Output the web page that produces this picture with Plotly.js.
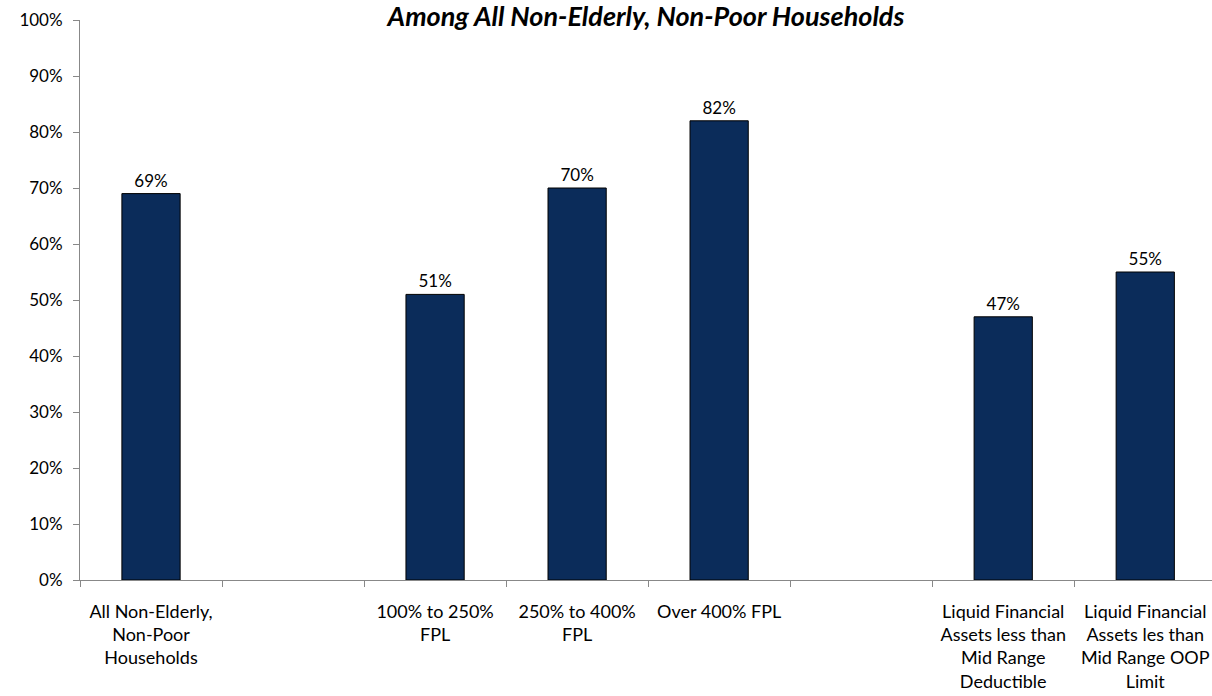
<!DOCTYPE html>
<html>
<head>
<meta charset="utf-8">
<script src="https://cdn.plot.ly/plotly-3.0.1.min.js"></script>
<style>html,body{margin:0;padding:0;background:#fff;}#chart{width:1212px;height:696px;}</style>
</head>
<body>
<div id="chart"></div>
<script>
var categories = [
  "All Non-Elderly,<br>Non-Poor<br>Households",
  " ",
  "100% to 250%<br>FPL",
  "250% to 400%<br>FPL",
  "Over 400% FPL",
  "  ",
  "Liquid Financial<br>Assets less than<br>Mid Range<br>Deductible",
  "Liquid Financial<br>Assets les than<br>Mid Range OOP<br>Limit"
];
var values = [69, null, 51, 70, 82, null, 47, 55];
var labels = values.map(function(v){ return v === null ? "" : v + "%"; });
var yTicks = [0,10,20,30,40,50,60,70,80,90,100];
var titleText = "Among All Non-Elderly, Non-Poor Households";

var font = "Lato, 'Open Sans', sans-serif";

Plotly.newPlot("chart", [{
  type: "bar",
  x: categories,
  y: values,
  text: labels,
  textposition: "outside",
  cliponaxis: false,
  textfont: {family: font, size: 17, color: "#000"},
  width: 0.41,
  marker: {color: "#0b2c5a", line: {color: "#000", width: 1}},
  hoverinfo: "skip"
}], {
  width: 1212, height: 696,
  margin: {l: 80, r: 0, t: 20, b: 116},
  paper_bgcolor: "#fff", plot_bgcolor: "#fff",
  showlegend: false,
  font: {family: font, size: 17, color: "#000"},
  title: {text: "<b><i>" + titleText + "</i></b>", x: 0.533, xanchor: "center", y: 0.99, yanchor: "top",
          font: {family: font, size: 27, color: "#000"}},
  xaxis: {
    type: "category",
    categoryorder: "array", categoryarray: categories,
    range: [-0.5, 7.47],
    tickson: "boundaries",
    ticks: "outside", ticklen: 6, tickcolor: "#888", tickwidth: 1,
    showline: true, linecolor: "#888", linewidth: 1,
    showgrid: false, zeroline: false,
    tickfont: {family: font, size: 18, color: "#000"},
    ticklabelstandoff: 15,
    tickangle: 0,
    automargin: false
  },
  yaxis: {
    range: [0, 100],
    tickvals: yTicks,
    ticktext: yTicks.map(function(t){ return t + "%"; }),
    ticks: "outside", ticklen: 6, tickcolor: "#888", tickwidth: 1,
    showline: true, linecolor: "#888", linewidth: 1,
    showgrid: false, zeroline: false,
    tickfont: {family: font, size: 17, color: "#000"},
    ticklabelstandoff: 7,
    automargin: false
  }
}, {displayModeBar: false, staticPlot: true});
</script>
</body>
</html>
